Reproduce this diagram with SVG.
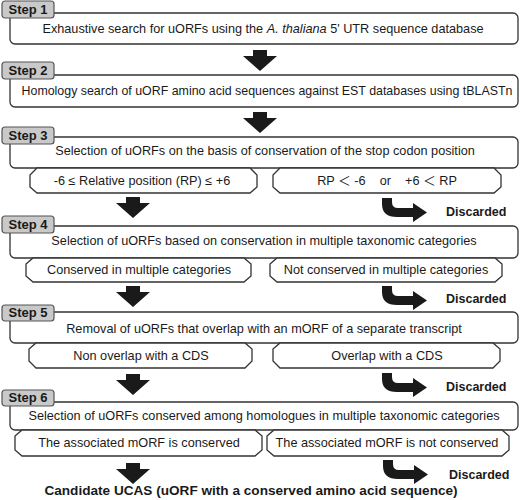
<svg xmlns="http://www.w3.org/2000/svg" width="520" height="500" viewBox="0 0 520 500">
<style>
.box{fill:#fff;stroke:#333;stroke-width:1.3}
.tab{fill:#c9c9c9;stroke:#555;stroke-width:1.2}
.sub{fill:#fff;stroke:#333;stroke-width:1.3}
.t{font-family:"Liberation Sans",Arial,sans-serif;font-size:12.7px;fill:#1a1a1a;text-anchor:middle}
.st{font-family:"Liberation Sans",Arial,sans-serif;font-size:13px;font-weight:bold;fill:#1a1a1a;text-anchor:middle}
.d{font-family:"Liberation Sans",Arial,sans-serif;font-size:12.5px;font-weight:bold;fill:#1a1a1a}
.arr{fill:#1a1a1a}
</style>
<defs>
<path id="down" d="M-7,0 h14 v6 h10 l-17,15 l-17,-15 h10 z"/>
<path id="disc" d="M0,0 h10 v4 q0,6 6,6 h15 v-5 l14,9.5 l-14,9.5 v-5 h-16 q-15,0 -15,-13 z"/>
</defs>

<g id="step1">
<rect class="box" x="10" y="13" width="508" height="31" rx="5"/>
<rect class="tab" x="2" y="1" width="52" height="17" rx="3"/>
<text class="st" x="28" y="14">Step 1</text>
<text class="t" x="263" y="33">Exhaustive search for uORFs using the <tspan font-style="italic">A. thaliana</tspan> 5' UTR sequence database</text>
</g>

<g id="step2">
<rect class="box" x="10" y="75" width="508" height="32" rx="5"/>
<rect class="tab" x="2" y="62" width="52" height="17" rx="3"/>
<text class="st" x="28" y="75">Step 2</text>
<text class="t" x="267" y="95" style="font-size:12.4px">Homology search of uORF amino acid sequences against EST databases using tBLASTn</text>
</g>

<g id="step3">
<rect class="box" x="10" y="137" width="508" height="31" rx="5"/>
<rect class="tab" x="2" y="127" width="52" height="17" rx="3"/>
<text class="st" x="28" y="140">Step 3</text>
<text class="t" x="265" y="155">Selection of uORFs on the basis of conservation of the stop codon position</text>
</g>
<g id="step3a">
<path class="sub" d="M37,168 H250 L257,175 V187 L250,193 H37 L30,187 V175 Z"/>
<text class="t" x="142" y="185">-6 ≤ Relative position (RP) ≤ +6</text>
</g>
<g id="step3b">
<path class="sub" d="M280,168 H494 L501,175 V187 L494,193 H280 L273,187 V175 Z"/>
<text class="t" x="387" y="185" style="white-space:pre;font-family:'Liberation Sans','Noto Sans CJK JP',sans-serif">RP ＜ -6    or    +6 ＜ RP</text>
</g>

<g id="step4">
<rect class="box" x="10" y="226" width="508" height="32" rx="5"/>
<rect class="tab" x="2" y="216" width="52" height="17" rx="3"/>
<text class="st" x="28" y="229">Step 4</text>
<text class="t" x="264" y="245">Selection of uORFs based on conservation in multiple taxonomic categories</text>
</g>
<g id="step4a">
<path class="sub" d="M33,258 H244 L251,264 V276 L244,282 H33 L26,276 V264 Z"/>
<text class="t" x="139" y="274">Conserved in multiple categories</text>
</g>
<g id="step4b">
<path class="sub" d="M277,258 H495 L502,264 V276 L495,282 H277 L270,276 V264 Z"/>
<text class="t" x="386" y="274">Not conserved in multiple categories</text>
</g>

<g id="step5">
<rect class="box" x="10" y="312" width="508" height="31" rx="5"/>
<rect class="tab" x="2" y="305" width="52" height="16" rx="3"/>
<text class="st" x="28" y="317">Step 5</text>
<text class="t" x="264" y="333">Removal of uORFs that overlap with an mORF of a separate transcript</text>
</g>
<g id="step5a">
<path class="sub" d="M36,343 H245 L252,349 V361 L245,368 H36 L29,361 V349 Z"/>
<text class="t" x="141" y="360">Non overlap with a CDS</text>
</g>
<g id="step5b">
<path class="sub" d="M280,343 H493 L500,349 V361 L493,368 H280 L273,361 V349 Z"/>
<text class="t" x="387" y="360">Overlap with a CDS</text>
</g>

<g id="step6">
<rect class="box" x="10" y="402" width="508" height="28" rx="5"/>
<rect class="tab" x="2" y="390" width="52" height="16" rx="3"/>
<text class="st" x="28" y="402">Step 6</text>
<text class="t" x="264" y="420">Selection of uORFs conserved among homologues in multiple taxonomic categories</text>
</g>
<g id="step6a">
<path class="sub" d="M22,430 H255 L262,436 V450 L255,456 H22 L15,450 V436 Z"/>
<text class="t" x="139" y="447">The associated mORF is conserved</text>
</g>
<g id="step6b">
<path class="sub" d="M274,430 H502 L509,436 V450 L502,456 H274 L267,450 V436 Z"/>
<text class="t" x="387" y="447">The associated mORF is not conserved</text>
</g>

<g id="result">
<text class="d" x="251" y="495" style="text-anchor:middle;font-size:13.6px">Candidate UCAS (uORF with a conserved amino acid sequence)</text>
</g>

<g id="connectors">
<use href="#down" class="arr" x="260" y="50"/>
<use href="#down" class="arr" x="260" y="112"/>
<use href="#down" class="arr" x="133" y="197"/>
<use href="#down" class="arr" x="133" y="286"/>
<use href="#down" class="arr" x="133" y="374"/>
<use href="#down" class="arr" x="133" y="463"/>
<use href="#disc" class="arr" x="382" y="198"/>
<use href="#disc" class="arr" x="382" y="286"/>
<use href="#disc" class="arr" x="382" y="373"/>
<use href="#disc" class="arr" x="383" y="460"/>
<text class="d" x="446" y="216">Discarded</text>
<text class="d" x="446" y="303">Discarded</text>
<text class="d" x="446" y="391">Discarded</text>
<text class="d" x="449" y="479">Discarded</text>
</g>
</svg>
